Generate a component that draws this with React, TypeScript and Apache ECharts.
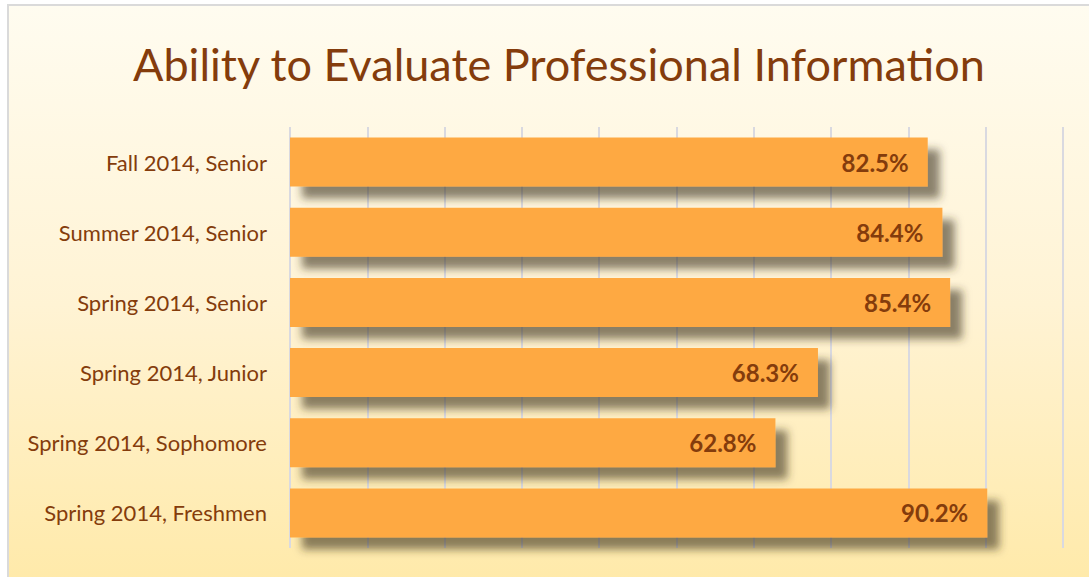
import React, { useEffect, useRef } from "react";
import * as echarts from "echarts";

const categories = [
  "Fall 2014, Senior",
  "Summer 2014, Senior",
  "Spring 2014, Senior",
  "Spring 2014, Junior",
  "Spring 2014, Sophomore",
  "Spring 2014, Freshmen",
];
const values = [82.5, 84.4, 85.4, 68.3, 62.8, 90.2];
const titleText = "Ability to Evaluate Professional Information";

const BROWN = "#843C0C";
const FONT = "Lato, 'Open Sans', sans-serif";

export default function App() {
  const ref = useRef<HTMLDivElement>(null);
  useEffect(() => {
    if (!ref.current) return;
    const chart = echarts.init(ref.current, undefined, { renderer: "svg" });
    chart.setOption({
      animation: false,
      graphic: [
        {
          type: "rect",
          z: -10,
          silent: true,
          shape: { x: 8, y: 5, width: 1100, height: 600 },
          style: {
            fill: new echarts.graphic.LinearGradient(0, 0, 0, 1, [
              { offset: 0, color: "#FFFCF0" },
              { offset: 0.5, color: "#FFF3D4" },
              { offset: 1, color: "#FFE9A6" },
            ]),
            stroke: "#DADADA",
            lineWidth: 2,
          },
        },
      ],
      title: {
        text: titleText,
        left: 128,
        top: 36,
        textStyle: {
          fontFamily: FONT,
          fontSize: 45,
          fontWeight: "normal",
          color: BROWN,
        },
      },
      grid: { left: 290, right: 26, top: 127, bottom: 29 },
      xAxis: {
        type: "value",
        min: 0,
        max: 100,
        interval: 10,
        axisLabel: { show: false },
        axisLine: { show: false },
        axisTick: { show: false },
        splitLine: { show: true, lineStyle: { color: "#D9D9E0", width: 2 } },
      },
      yAxis: {
        type: "category",
        data: categories,
        inverse: true,
        axisLine: { show: false },
        axisTick: { show: false },
        axisLabel: {
          fontFamily: FONT,
          fontSize: 22,
          color: BROWN,
          margin: 23,
        },
      },
      series: [
        {
          type: "bar",
          data: values,
          barWidth: 49,
          itemStyle: {
            color: "#FEA942",
            shadowColor: "rgba(60,50,30,0.6)",
            shadowBlur: 8,
            shadowOffsetX: 12,
            shadowOffsetY: 12,
          },
          label: {
            show: true,
            position: "insideRight",
            distance: 19,
            formatter: (p: any) => p.value.toFixed(1) + "%",
            fontFamily: FONT,
            fontSize: 24,
            fontWeight: "bold",
            color: BROWN,
          },
        },
      ],
    });
    return () => chart.dispose();
  }, []);
  return (
    <div
      ref={ref}
      style={{ position: "absolute", left: 0, top: 0, width: 1089, height: 577 }}
    />
  );
}
